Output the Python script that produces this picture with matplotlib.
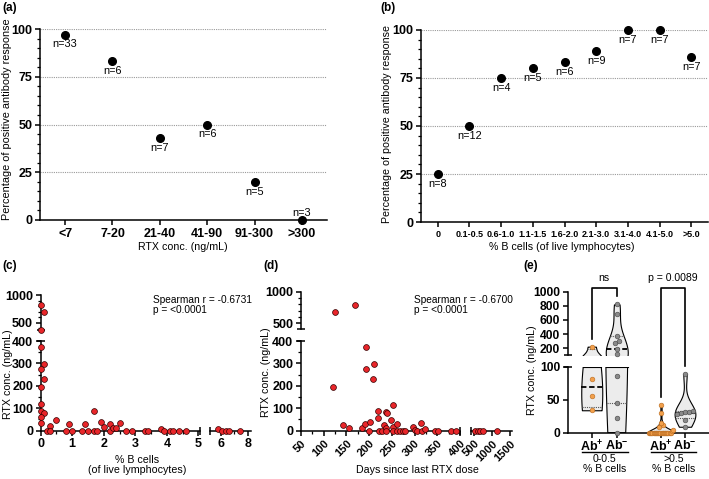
import numpy as np
import matplotlib
matplotlib.use('Agg')
import matplotlib.pyplot as plt
from matplotlib.lines import Line2D
from matplotlib.ticker import MultipleLocator

plt.rcParams['font.family'] = ['Liberation Sans', 'DejaVu Sans']
plt.rcParams['mathtext.fontset'] = 'custom'
plt.rcParams['mathtext.rm'] = 'Liberation Sans'
plt.rcParams['mathtext.bf'] = 'Liberation Sans:bold'
plt.rcParams['axes.linewidth'] = 1.1
for a in ('xtick', 'ytick'):
    plt.rcParams[a + '.major.width'] = 1.1
    plt.rcParams[a + '.minor.width'] = 0.9
    plt.rcParams[a + '.major.size'] = 3.5
    plt.rcParams[a + '.minor.size'] = 2
    plt.rcParams[a + '.major.pad'] = 2

# (a) antibody response by RTX concentration
conc_cats = ['<7', '7-20', '21-40', '41-90', '91-300', '>300']
conc_pct = [97.0, 83.3, 42.9, 50.0, 20.0, 0.0]
conc_n = [33, 6, 7, 6, 5, 3]

# (b) antibody response by % B cells
bcell_cats = ['0', '0.1-0.5', '0.6-1.0', '1.1-1.5', '1.6-2.0', '2.1-3.0',
              '3.1-4.0', '4.1-5.0', '>5.0']
bcell_pct = [25.0, 50.0, 75.0, 80.0, 83.3, 88.9, 100.0, 100.0, 85.7]
bcell_n = [8, 12, 4, 5, 6, 9, 7, 7, 7]

# (c) RTX conc. vs % B cells
c_bcells = [0, 0.1, 0, 0.1, 0, 0.1, 0, 0, 0, 0.1, 0, 0, 0.3, 0.2, 0.3, 0.5,
            0.8, 0.9, 1.0, 1.3, 1.4, 1.5, 1.7, 1.7, 1.8, 1.9, 2.0, 2.2, 2.2,
            2.3, 2.4, 2.5, 2.7, 2.9, 3.3, 3.4, 3.8, 3.9, 4.1, 4.2, 4.4, 4.6,
            5.8, 6.1, 6.35, 6.6, 7.4]
c_rtx = [820, 688, 375, 297, 274, 229, 196, 117, 89, 80, 59, 33, 21, 0, 0, 48,
         0, 28, 0, 0, 30, 0, 89, 0, 0, 40, 16, 30, 0,
         10, 13, 36, 0, 0, 0, 0, 8, 0, 0, 0, 0, 0,
         8, 0, 0, 0, 0]

# (d) RTX conc. vs days since last RTX dose
d_days = [125, 169, 121, 192, 192, 210, 208, 143, 155, 184, 190, 200, 202, 219,
          220, 221, 229, 233, 237, 240, 238, 237, 248, 253, 253, 261, 252, 261,
          268, 275, 280, 297, 300, 305, 314, 316, 323, 345, 352, 380, 391,
          540, 610, 680, 740, 1140]
d_rtx = [673, 790, 196, 372, 274, 297, 229, 24, 11, 13, 30, 0, 39, 55,
         89, 0, 0, 25, 85, 80, 10, 0, 48, 116, 15, 30, 0, 0,
         0, 0, 0, 18, 5, 0, 35, 0, 8, 0, 0, 0, 0,
         0, 0, 0, 0, 0]

# (e) RTX conc. by antibody status within B cell groups
e_pos_low = [34, 56, 81, 223]
e_neg_low = [0, 22, 45, 86, 117, 196, 274, 297, 375, 688, 820]
e_pos_high = [0] * 20 + [2, 4, 8, 12, 15, 30, 42]
e_neg_high = [9, 20, 28, 30, 31, 32, 33, 89]
e_ticklabels = [r'$\mathbf{Ab^{+}}$', r'$\mathbf{Ab^{-}}$',
                r'$\mathbf{Ab^{+}}$', r'$\mathbf{Ab^{-}}$']
e_group_names = ['0-0.5\n% B cells', '>0.5\n% B cells']
e_pvals = ['ns', 'p = 0.0089']

W, H = 709, 479
fig = plt.figure(figsize=(W / 100, H / 100), dpi=100)


def box(l, t, r, b):
    return [l / W, 1 - b / H, (r - l) / W, (b - t) / H]


def ftext(x, y, s, **kw):
    kw.setdefault('ha', 'center')
    kw.setdefault('va', 'center')
    fig.text(x / W, 1 - y / H, s, **kw)


def clean(ax, left=True, bottom=True):
    ax.spines['top'].set_visible(False)
    ax.spines['right'].set_visible(False)
    if not left:
        ax.spines['left'].set_visible(False)
        ax.tick_params(axis='y', which='both', left=False, labelleft=False)
    if not bottom:
        ax.spines['bottom'].set_visible(False)
        ax.tick_params(axis='x', which='both', bottom=False, labelbottom=False)
    ax.patch.set_alpha(0)


def cap(ax, xa, ya, horizontal, size=4):
    bb = ax.get_position()
    if horizontal:
        d = size / (bb.width * W)
        ax.plot([xa - d, xa + d], [ya, ya], transform=ax.transAxes, color='k',
                lw=1.1, clip_on=False, solid_capstyle='butt')
    else:
        d = size / (bb.height * H)
        ax.plot([xa, xa], [ya - d, ya + d], transform=ax.transAxes, color='k',
                lw=1.1, clip_on=False, solid_capstyle='butt')


TICKFS = 9
LABFS = 7.7


def ticks(ax, axis, vals, fs=TICKFS, **kw):
    labels = [str(v) for v in vals]
    if axis == 'x':
        ax.set_xticks(vals, labels, fontweight='bold', fontsize=fs, **kw)
    else:
        ax.set_yticks(vals, labels, fontweight='bold', fontsize=fs, **kw)


def category_panel(ax, cats, pct, ns, fs_x):
    x = np.arange(len(cats))
    ax.plot(x, pct, 'o', color='black', ms=5.5, clip_on=False, zorder=3)
    for xi, p, n in zip(x, pct, ns):
        dy = 5 if p == 0 else -7
        ax.annotate(f'n={n}', (xi, p), xytext=(0, dy), textcoords='offset points',
                    ha='center', va='center', fontsize=7.8)
    ax.set_xlim(-0.53, len(cats) - 0.47)
    ax.set_ylim(0, 100)
    ax.set_xticks(x, cats, fontweight='bold', fontsize=fs_x)
    ticks(ax, 'y', [0, 25, 50, 75, 100])
    ax.yaxis.set_minor_locator(MultipleLocator(5))
    ax.grid(axis='y', ls=(0, (1, 1)), color='#9a9a9a', lw=0.8)
    ax.set_axisbelow(True)
    clean(ax)


# ---- (a)
ax_a = fig.add_axes(box(40, 29, 327, 220))
category_panel(ax_a, conc_cats, conc_pct, conc_n, TICKFS)
ftext(2, 8, '(a)', fontweight='bold', fontsize=8.5, ha='left')
ftext(7, 119, 'Percentage of positive antibody response', rotation=90, fontsize=7.8)
ftext(183, 247, 'RTX conc. (ng/mL)', fontsize=LABFS)

# ---- (b)
ax_b = fig.add_axes(box(421, 30, 708, 222))
category_panel(ax_b, bcell_cats, bcell_pct, bcell_n, 6.5)
ftext(380, 8, '(b)', fontweight='bold', fontsize=8.5, ha='left')
ftext(387, 124, 'Percentage of positive antibody response', rotation=90, fontsize=LABFS)
ftext(562, 247, '% B cells (of live lymphocytes)', fontsize=LABFS)

red = dict(marker='o', ls='none', mfc='#e8262a', mec='#300', mew=0.5, ms=4.2,
           clip_on=False, zorder=3)


def dots(ax, xs, ys, xlim, ylim):
    xs, ys = np.asarray(xs, float), np.asarray(ys, float)
    m = (xs >= xlim[0]) & (xs <= xlim[1]) & (ys >= ylim[0]) & (ys <= ylim[1])
    ax.plot(xs[m], ys[m], **red)
    ax.set_xlim(xlim)
    ax.set_ylim(ylim)


# ---- (c)
c_lo = fig.add_axes(box(40.7, 341, 200, 430.7))
c_hi = fig.add_axes(box(40.7, 295, 200, 330))
c_rt = fig.add_axes(box(210, 341, 250.7, 430.7))
dots(c_lo, c_bcells, c_rtx, (0, 5.05), (0, 400))
dots(c_hi, c_bcells, c_rtx, (0, 5.05), (368, 1000))
dots(c_rt, c_bcells, c_rtx, (5.2, 8.2), (0, 400))
clean(c_lo)
clean(c_hi, bottom=False)
clean(c_rt, left=False)
ticks(c_lo, 'x', [0, 1, 2, 3, 4, 5])
c_lo.xaxis.set_minor_locator(MultipleLocator(0.5))
ticks(c_lo, 'y', [0, 100, 200, 300, 400])
c_lo.yaxis.set_minor_locator(MultipleLocator(50))
ticks(c_hi, 'y', [500, 1000])
c_hi.yaxis.set_minor_locator(MultipleLocator(100))
ticks(c_rt, 'x', [6, 8])
c_rt.xaxis.set_minor_locator(MultipleLocator(1))
cap(c_lo, 0, 1, True)
cap(c_hi, 0, 0, True)
cap(c_lo, 1, 0, False)
cap(c_rt, 0, 0, False)
ftext(2, 266, '(c)', fontweight='bold', fontsize=8.5, ha='left')
ftext(8, 374, 'RTX conc. (ng/mL)', rotation=90, fontsize=LABFS)
ftext(137, 465, '% B cells\n(of live lymphocytes)', fontsize=LABFS, linespacing=1.0)
ftext(153, 305, 'Spearman r = -0.6731\np = <0.0001', fontsize=7.3, ha='left',
      linespacing=1.05)

# ---- (d)
d_lo = fig.add_axes(box(301, 341, 460, 430.7))
d_hi = fig.add_axes(box(301, 291.7, 460, 329.3))
d_rt = fig.add_axes(box(471, 341, 511.7, 430.7))
dots(d_lo, d_days, d_rtx, (50, 400), (0, 400))
dots(d_hi, d_days, d_rtx, (50, 400), (405, 1000))
dots(d_rt, d_days, d_rtx, (420, 1550), (0, 400))
clean(d_lo)
clean(d_hi, bottom=False)
clean(d_rt, left=False)
rot = dict(rotation=45, ha='right', va='top', rotation_mode='anchor')
ticks(d_lo, 'x', list(range(50, 401, 50)), fs=8, **rot)
d_lo.xaxis.set_minor_locator(MultipleLocator(25))
ticks(d_lo, 'y', [0, 100, 200, 300, 400])
d_lo.yaxis.set_minor_locator(MultipleLocator(50))
ticks(d_hi, 'y', [500, 1000])
d_hi.yaxis.set_minor_locator(MultipleLocator(100))
ticks(d_rt, 'x', [500, 1000, 1500], fs=8, **rot)
cap(d_lo, 0, 1, True)
cap(d_hi, 0, 0, True)
cap(d_lo, 1, 0, False)
cap(d_rt, 0, 0, False)
ftext(263, 266, '(d)', fontweight='bold', fontsize=8.5, ha='left')
ftext(266, 372, 'RTX conc. (ng/mL)', rotation=90, fontsize=LABFS)
ftext(417, 470, 'Days since last RTX dose', fontsize=LABFS)
ftext(414, 305, 'Spearman r = -0.6700\np = <0.0001', fontsize=7.3, ha='left',
      linespacing=1.05)

# ---- (e)
e_lo = fig.add_axes(box(568, 366.7, 709, 432.7))
e_hi = fig.add_axes(box(568, 291.7, 709, 355))
groups = [e_pos_low, e_neg_low, e_pos_high, e_neg_high]
positions = [1, 2, 3.77, 4.73]
widths = [0.84, 0.88, 1.04, 0.83]
for ax, yl in ((e_lo, (0, 100)), (e_hi, (105, 1000))):
    ax.set_xlim(0.05, 5.69)
    ax.set_ylim(yl)
    parts = ax.violinplot(groups, positions, widths=widths, showextrema=False,
                          points=300)
    for body in parts['bodies']:
        body.set_facecolor('#ececec')
        body.set_edgecolor('black')
        body.set_linewidth(0.8)
        body.set_alpha(1)
    for body, pos, g in zip(parts['bodies'], positions, groups):
        v = body.get_paths()[0].vertices
        rside = v[v[:, 0] >= pos]
        o = np.argsort(rside[:, 1])
        q1, med, q3 = np.percentile(g, [25, 50, 75], method='weibull')
        for q, st in ((q1, dict(ls=(0, (1, 1)), lw=0.8, color='#555')),
                      (med, dict(ls=(0, (3, 1.5)), lw=1.3, color='black')),
                      (q3, dict(ls=(0, (1, 1)), lw=0.8, color='#555'))):
            hw = np.interp(q, rside[o, 1], rside[o, 0]) - pos
            ax.plot([pos - hw, pos + hw], [q, q], **st)
        # flat edge where the violin meets the axis break
        if ax is e_lo and max(g) > yl[1]:
            hw = np.interp(yl[1], rside[o, 1], rside[o, 0]) - pos
            ax.plot([pos - hw, pos + hw], [yl[1], yl[1]], color='k', lw=0.8)

clean(e_lo)
clean(e_hi, bottom=False)
ticks(e_lo, 'y', [0, 50, 100], fs=8.7)
ticks(e_hi, 'y', [200, 400, 600, 800, 1000], fs=8.7)
e_lo.set_xticks(positions, e_ticklabels, fontsize=9)
e_lo.tick_params(axis='x', pad=1.5)
cap(e_lo, 0, 1, True)
cap(e_hi, 0, 0, True)


def to_disp(pos, v):
    ax = e_lo if v <= 100 else e_hi
    return ax.transData.transform((pos, v))


# dots, spread sideways where they overlap
px_per_unit = e_lo.transData.transform((1, 0))[0] - e_lo.transData.transform((0, 0))[0]
colors = ['#f2a04c', '#8a8a8a', '#f2a04c', '#8a8a8a']
edges = ['#b86a1e', '#444444', '#b86a1e', '#444444']
for pos, g, fc, ec in zip(positions, groups, colors, edges):
    g = np.asarray(g, float)
    ypx = np.array([to_disp(pos, v)[1] for v in g])
    order = np.argsort(ypx)
    offs = np.zeros(len(g))
    i = 0
    while i < len(order):
        j = i
        while j + 1 < len(order) and ypx[order[j + 1]] - ypx[order[i]] < 4:
            j += 1
        k = j - i + 1
        half = min((k - 1) * 2.0, 12)
        offs[order[i:j + 1]] = np.linspace(-half, half, k) if k > 1 else 0
        i = j + 1
    for v, off in zip(g, offs):
        ax = e_lo if v <= 100 else e_hi
        ax.plot(pos + off / px_per_unit, v, 'o', ms=3.4, mfc=fc, mec=ec, mew=0.4,
                clip_on=False, zorder=4)

# significance brackets
top_y = H - 288
for (i, j), label in zip(((0, 1), (2, 3)), e_pvals):
    xs, ys = [], []
    for k in (i, j):
        d = to_disp(positions[k], max(groups[k]))
        xs.append(d[0])
        ys.append(d[1] + 8)
    fig.add_artist(Line2D([xs[0] / W, xs[0] / W, xs[1] / W, xs[1] / W],
                          [ys[0] / H, top_y / H, top_y / H, ys[1] / H],
                          color='k', lw=1.2, transform=fig.transFigure))
    fig.text((xs[0] + xs[1]) / 2 / W, (top_y + 10) / H, label, ha='center',
             va='center', fontsize=7.6)

# group captions under the x axis
for (i, j), name in zip(((0, 1), (2, 3)), e_group_names):
    x0 = e_lo.transData.transform((positions[i], 0))[0] - 10
    x1 = e_lo.transData.transform((positions[j], 0))[0] + 11
    fig.add_artist(Line2D([x0 / W, x1 / W], [1 - 451.7 / H, 1 - 451.7 / H],
                          color='k', lw=1.0, transform=fig.transFigure))
    fig.text((x0 + x1) / 2 / W, 1 - 454.5 / H, name, ha='center', va='top',
             fontsize=7.6, linespacing=0.95)

ftext(523, 266, '(e)', fontweight='bold', fontsize=8.5, ha='left')
ftext(532, 370, 'RTX conc. (ng/mL)', rotation=90, fontsize=LABFS)

fig.savefig('out.png', dpi=100)
